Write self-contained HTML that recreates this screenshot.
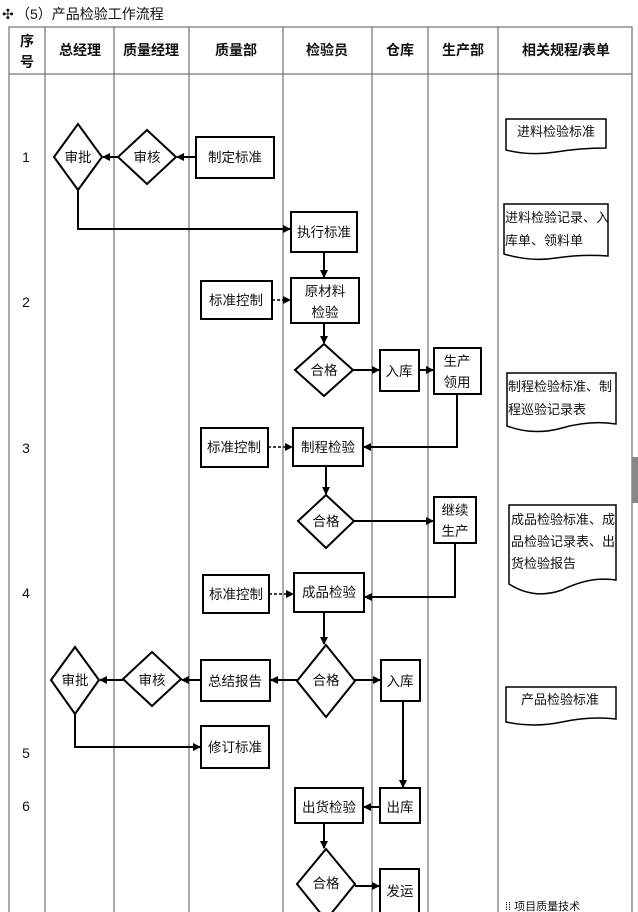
<!DOCTYPE html>
<html><head><meta charset="utf-8"><style>
html,body{margin:0;padding:0;background:#fff;width:638px;height:912px;overflow:hidden}
svg text{font-family:"Liberation Sans","Noto Sans CJK SC",sans-serif;fill:#111}
</style></head><body>
<svg width="638" height="912" viewBox="0 0 638 912" xmlns="http://www.w3.org/2000/svg">
<defs><marker id="a" markerWidth="8" markerHeight="8" refX="7" refY="4" orient="auto" markerUnits="userSpaceOnUse"><path d="M0,0 L8,4 L0,8 z" fill="#000"/></marker></defs>
<text x="2" y="19" font-size="14" fill="#999">✣</text>
<text x="16" y="19" font-size="14" fill="#333">（5）产品检验工作流程</text>
<g stroke="#555" stroke-width="1" fill="none">
<rect x="9" y="27" width="623" height="890"/>
<line x1="9" y1="74" x2="632" y2="74"/>
<line x1="45" y1="27" x2="45" y2="912"/><line x1="114" y1="27" x2="114" y2="912"/>
<line x1="189" y1="27" x2="189" y2="912"/><line x1="283" y1="27" x2="283" y2="912"/>
<line x1="372" y1="27" x2="372" y2="912"/><line x1="428" y1="27" x2="428" y2="912"/>
<line x1="498" y1="27" x2="498" y2="912"/>
</g>
<rect x="632" y="457" width="6" height="46" fill="#888"/>
<g font-size="14" font-weight="bold" text-anchor="middle">
<text x="27" y="46">序</text><text x="27" y="67">号</text>
<text x="80" y="55">总经理</text><text x="151" y="55">质量经理</text><text x="236" y="55">质量部</text>
<text x="327" y="55">检验员</text><text x="400" y="55">仓库</text><text x="463" y="55">生产部</text><text x="566" y="55">相关规程/表单</text>
</g>
<g font-size="14" fill="#333" text-anchor="middle">
<text x="26" y="162">1</text><text x="26" y="307">2</text><text x="26" y="453">3</text><text x="26" y="598">4</text><text x="26" y="758">5</text><text x="26" y="811">6</text>
</g>
<g stroke="#000" stroke-width="2" fill="#fff">
<polygon points="78,124 102,157 78,190 54,157"/>
<polygon points="147,130 176,157 147,184 118,157"/>
<rect x="196" y="137" width="78" height="41"/>
<rect x="291" y="212" width="66" height="40"/>
<rect x="291" y="278" width="68" height="45"/>
<rect x="201" y="281" width="71" height="38"/>
<polygon points="324,344 353,370 324,396 295,370"/>
<rect x="380" y="350" width="39" height="41"/>
<rect x="434" y="348" width="47" height="46"/>
<rect x="201" y="428" width="67" height="39"/>
<rect x="293" y="428" width="70" height="38"/>
<polygon points="326,495 354,521 326,548 298,521"/>
<rect x="434" y="497" width="42" height="46"/>
<rect x="203" y="575" width="66" height="38"/>
<rect x="294" y="573" width="70" height="39"/>
<polygon points="326,645 355,681 326,717 297,681"/>
<rect x="381" y="660" width="39" height="41"/>
<rect x="201" y="660" width="69" height="41"/>
<polygon points="152,652 181,679 152,706 123,679"/>
<polygon points="75,647 99,680 75,714 51,680"/>
<rect x="201" y="726" width="68" height="42"/>
<rect x="380" y="788" width="40" height="35"/>
<rect x="295" y="788" width="68" height="35"/>
<polygon points="326,849 355,884 326,920 297,884"/>
<rect x="380" y="869" width="39" height="45"/>
</g>
<g stroke="#000" stroke-width="2" fill="none" marker-end="url(#a)">
<line x1="196" y1="157" x2="177" y2="157"/>
<line x1="118" y1="157" x2="103" y2="157"/>
<polyline points="78,190 78,229 290,229"/>
<line x1="324" y1="252" x2="324" y2="277"/>
<line x1="324" y1="323" x2="324" y2="343"/>
<line x1="353" y1="370" x2="379" y2="370"/>
<line x1="419" y1="370" x2="433" y2="370"/>
<polyline points="457,394 457,447 364,447"/>
<line x1="326" y1="466" x2="326" y2="494"/>
<line x1="354" y1="521" x2="433" y2="521"/>
<polyline points="455,543 455,597 365,597"/>
<line x1="324" y1="612" x2="324" y2="644"/>
<line x1="355" y1="680" x2="380" y2="680"/>
<line x1="297" y1="680" x2="271" y2="680"/>
<line x1="201" y1="680" x2="182" y2="680"/>
<line x1="123" y1="680" x2="100" y2="680"/>
<polyline points="75,714 75,747 200,747"/>
<line x1="403" y1="701" x2="403" y2="787"/>
<line x1="380" y1="807" x2="364" y2="807"/>
<line x1="324" y1="823" x2="324" y2="848"/>
<line x1="355" y1="886" x2="379" y2="886"/>
</g>
<g stroke="#000" stroke-width="1.5" stroke-dasharray="3,2" fill="none" marker-end="url(#a)">
<line x1="272" y1="300" x2="290" y2="300"/>
<line x1="268" y1="447" x2="292" y2="447"/>
<line x1="269" y1="594" x2="293" y2="594"/>
</g>
<g stroke="#000" stroke-width="1.5" fill="#fff">
<path d="M506,119 H606 V148 Q580,148 556,152 Q530,156 506,150 Z"/>
<path d="M504,204 H608 V256 Q582,254 556,258 Q530,262 504,254 Z"/>
<path d="M507,373 H616 V424 Q590,420 562,428 Q534,436 507,426 Z"/>
<path d="M509,505 H616 V580 Q590,576 562,590 Q534,600 509,584 Z"/>
<path d="M506,687 H616 V719 Q590,716 562,722 Q534,728 506,722 Z"/>
</g>
<g font-size="13.5" text-anchor="middle">
<text x="78" y="162">审批</text><text x="147" y="162">审核</text><text x="235" y="162">制定标准</text>
<text x="324" y="237">执行标准</text><text x="325" y="296">原材料</text><text x="325" y="317">检验</text>
<text x="236" y="305">标准控制</text><text x="324" y="375">合格</text><text x="399" y="376">入库</text>
<text x="457" y="366">生产</text><text x="457" y="387">领用</text>
<text x="234" y="452">标准控制</text><text x="328" y="452">制程检验</text>
<text x="326" y="526">合格</text><text x="455" y="515">继续</text><text x="455" y="536">生产</text>
<text x="236" y="599">标准控制</text><text x="329" y="597">成品检验</text>
<text x="326" y="685">合格</text><text x="400" y="686">入库</text><text x="235" y="686">总结报告</text>
<text x="152" y="685">审核</text><text x="75" y="685">审批</text><text x="235" y="752">修订标准</text>
<text x="400" y="812">出库</text><text x="329" y="812">出货检验</text>
<text x="326" y="888">合格</text><text x="400" y="896">发运</text>
</g>
<g font-size="13" text-anchor="start">
<text x="517" y="136">进料检验标准</text>
<text x="505" y="222">进料检验记录、入</text><text x="505" y="245">库单、领料单</text>
<text x="508" y="391">制程检验标准、制</text><text x="508" y="414">程巡验记录表</text>
<text x="511" y="524">成品检验标准、成</text><text x="511" y="546">品检验记录表、出</text><text x="511" y="568">货检验报告</text>
<text x="521" y="704">产品检验标准</text>
</g>
<text x="505" y="910" font-size="11" fill="#bbb">⁞⁞ 项目质量技术</text>
</svg>
</body></html>
